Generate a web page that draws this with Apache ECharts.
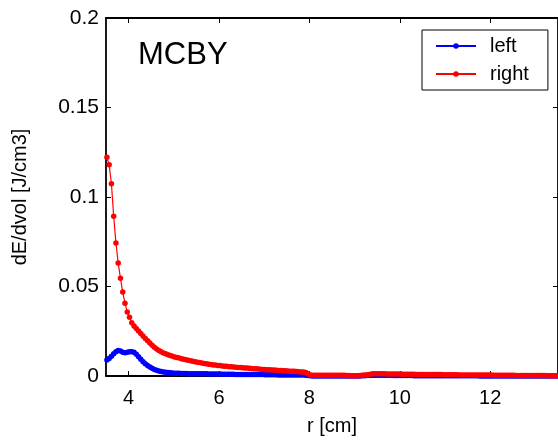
<!DOCTYPE html>
<html>
<head>
<meta charset="utf-8">
<script src="https://cdn.jsdelivr.net/npm/echarts@6/dist/echarts.min.js"></script>
<style>
  html, body { margin: 0; padding: 0; background: #fff; }
  #chart { width: 558px; height: 445px; }
</style>
</head>
<body>
<div id="chart"></div>
<script>
// Radial sampling grid (cm): first sample and spacing
const rFirst = 3.52;
const rStep = 0.05;

// Energy density dE/dvol [J/cm3], one value per radial sample
const leftValues = [
  0.0089, 0.0098, 0.0110, 0.0124, 0.0136, 0.0143, 0.0140, 0.0133, 0.0130, 0.0132,
  0.0135, 0.0136, 0.0132, 0.0122, 0.0108, 0.0094, 0.0080, 0.0068, 0.0058, 0.0050,
  0.0043, 0.0037, 0.0032, 0.0028, 0.0025, 0.0023, 0.0021, 0.0019, 0.0018, 0.0017,
  0.0016, 0.0015, 0.0015, 0.0014, 0.0014, 0.0014, 0.0013, 0.0013, 0.0013, 0.0013,
  0.0012, 0.0012, 0.0012, 0.0012, 0.0012, 0.0011, 0.0011, 0.0011, 0.0011, 0.0011,
  0.0011, 0.0010, 0.0010, 0.0010, 0.0010, 0.0010, 0.0010, 0.0009, 0.0009, 0.0009,
  0.0009, 0.0009, 0.0009, 0.0008, 0.0008, 0.0008, 0.0008, 0.0008, 0.0008, 0.0008,
  0.0007, 0.0007, 0.0007, 0.0007, 0.0007, 0.0007, 0.0006, 0.0006, 0.0006, 0.0006,
  0.0006, 0.0006, 0.0006, 0.0005, 0.0005, 0.0005, 0.0005, 0.0005, 0.0004, 0.0003,
  0.0001, 0.0000, 0.0000, 0.0000, 0.0000, 0.0000, 0.0000, 0.0000, 0.0000, 0.0000,
  0.0000, 0.0000, 0.0000, 0.0000, 0.0000, 0.0000, 0.0000, 0.0000, 0.0000, 0.0000,
  0.0000, 0.0000, 0.0000, 0.0001, 0.0002, 0.0003, 0.0004, 0.0004, 0.0004, 0.0004,
  0.0004, 0.0004, 0.0004, 0.0004, 0.0004, 0.0004, 0.0004, 0.0003, 0.0003, 0.0003,
  0.0003, 0.0003, 0.0003, 0.0003, 0.0003, 0.0003, 0.0002, 0.0002, 0.0002, 0.0002,
  0.0002, 0.0002, 0.0002, 0.0001, 0.0001, 0.0001, 0.0001, 0.0001, 0.0001, 0.0001,
  0.0001, 0.0001, 0.0001, 0.0001, 0.0001, 0.0001, 0.0001, 0.0001, 0.0001, 0.0001,
  0.0001, 0.0001, 0.0001, 0.0001, 0.0001, 0.0000, 0.0000, 0.0000, 0.0000, 0.0000,
  0.0000, 0.0000, 0.0000, 0.0000, 0.0000, 0.0000, 0.0000, 0.0000, 0.0000, 0.0000,
  0.0000, 0.0000, 0.0000, 0.0000, 0.0000, 0.0000, 0.0000, 0.0000, 0.0000, 0.0000,
  0.0000, 0.0000, 0.0000, 0.0000, 0.0000, 0.0000, 0.0000, 0.0000, 0.0000, 0.0000
];

const rightValues = [
  0.1222, 0.1180, 0.1074, 0.0892, 0.0743, 0.0631, 0.0546, 0.0469, 0.0406, 0.0358,
  0.0328, 0.0298, 0.0280, 0.0265, 0.0251, 0.0238, 0.0224, 0.0210, 0.0197, 0.0184,
  0.0172, 0.0161, 0.0151, 0.0142, 0.0135, 0.0129, 0.0124, 0.0119, 0.0114, 0.0110,
  0.0106, 0.0103, 0.0100, 0.0097, 0.0094, 0.0091, 0.0088, 0.0085, 0.0082, 0.0080,
  0.0077, 0.0075, 0.0072, 0.0070, 0.0068, 0.0066, 0.0064, 0.0062, 0.0061, 0.0059,
  0.0058, 0.0056, 0.0055, 0.0054, 0.0052, 0.0051, 0.0050, 0.0049, 0.0048, 0.0047,
  0.0046, 0.0045, 0.0044, 0.0043, 0.0042, 0.0041, 0.0040, 0.0039, 0.0038, 0.0037,
  0.0036, 0.0035, 0.0035, 0.0034, 0.0033, 0.0032, 0.0031, 0.0031, 0.0030, 0.0029,
  0.0028, 0.0027, 0.0027, 0.0026, 0.0025, 0.0024, 0.0023, 0.0022, 0.0020, 0.0013,
  0.0006, 0.0004, 0.0004, 0.0004, 0.0004, 0.0004, 0.0004, 0.0004, 0.0004, 0.0004,
  0.0004, 0.0004, 0.0004, 0.0004, 0.0004, 0.0004, 0.0003, 0.0003, 0.0002, 0.0002,
  0.0002, 0.0002, 0.0003, 0.0004, 0.0005, 0.0006, 0.0009, 0.0011, 0.0012, 0.0012,
  0.0012, 0.0012, 0.0012, 0.0012, 0.0011, 0.0011, 0.0011, 0.0011, 0.0011, 0.0011,
  0.0011, 0.0010, 0.0010, 0.0010, 0.0010, 0.0010, 0.0010, 0.0009, 0.0009, 0.0009,
  0.0009, 0.0009, 0.0008, 0.0008, 0.0008, 0.0008, 0.0008, 0.0008, 0.0008, 0.0007,
  0.0007, 0.0007, 0.0007, 0.0007, 0.0007, 0.0007, 0.0006, 0.0006, 0.0006, 0.0006,
  0.0006, 0.0006, 0.0006, 0.0005, 0.0005, 0.0005, 0.0005, 0.0005, 0.0005, 0.0005,
  0.0005, 0.0004, 0.0004, 0.0004, 0.0004, 0.0004, 0.0004, 0.0004, 0.0004, 0.0004,
  0.0004, 0.0003, 0.0003, 0.0003, 0.0003, 0.0003, 0.0003, 0.0003, 0.0003, 0.0003,
  0.0003, 0.0003, 0.0003, 0.0003, 0.0003, 0.0002, 0.0002, 0.0002, 0.0002, 0.0002
];

const xTicks = [4, 6, 8, 10, 12];
const yTicks = [0, 0.05, 0.1, 0.15, 0.2];
const seriesNames = ['left', 'right'];
const plotTitle = 'MCBY';

const radii = leftValues.map((_, i) => +(rFirst + i * rStep).toFixed(2));
const pairs = (vals) => vals.map((v, i) => [radii[i], v]);

const FONT = 'Liberation Sans, Arial, Helvetica, sans-serif';

const chart = echarts.init(document.getElementById('chart'), null, { renderer: 'canvas' });

const axisLineStyle = { color: '#000', width: 1.8 };
const tickStyle = { color: '#000', width: 1 };

chart.setOption({
  animation: false,
  backgroundColor: '#fff',
  textStyle: { fontFamily: FONT },
  grid: { left: 106, top: 18, width: 455, height: 358, containLabel: false },
  title: {
    text: plotTitle,
    left: 133, top: 35,
    textStyle: { fontFamily: FONT, fontSize: 31, fontWeight: 'normal', color: '#000' }
  },
  legend: {
    data: seriesNames,
    orient: 'vertical',
    left: 422, top: 30,
    padding: [6, 19, 6, 13],
    itemGap: 8,
    itemWidth: 40,
    itemHeight: 7,
    backgroundColor: '#fff',
    borderColor: '#000',
    borderWidth: 1,
    textStyle: { fontFamily: FONT, fontSize: 20, color: '#000', padding: [0, 0, 0, 9] }
  },
  xAxis: [
    {
      type: 'value', min: 3.5, max: 13.5, position: 'bottom',
      name: 'r [cm]', nameLocation: 'middle', nameGap: 40,
      nameTextStyle: { fontFamily: FONT, fontSize: 20, color: '#000' },
      axisLine: { show: true, onZero: false, lineStyle: axisLineStyle },
      axisTick: { show: true, inside: true, length: 5, customValues: xTicks, lineStyle: tickStyle },
      axisLabel: { show: true, customValues: xTicks, margin: 12, fontFamily: FONT, fontSize: 20, color: '#000' },
      splitLine: { show: false }
    },
    {
      type: 'value', min: 3.5, max: 13.5, position: 'top',
      axisLine: { show: true, onZero: false, lineStyle: axisLineStyle },
      axisTick: { show: true, inside: true, length: 5, customValues: xTicks, lineStyle: tickStyle },
      axisLabel: { show: false },
      splitLine: { show: false }
    }
  ],
  yAxis: [
    {
      type: 'value', min: 0, max: 0.2, interval: 0.05, position: 'left',
      name: 'dE/dvol [J/cm3]', nameLocation: 'middle', nameGap: 76,
      nameTextStyle: { fontFamily: FONT, fontSize: 20, color: '#000' },
      axisLine: { show: true, onZero: false, lineStyle: axisLineStyle },
      axisTick: { show: true, inside: true, length: 5, lineStyle: tickStyle },
      axisLabel: {
        show: true, margin: 7, fontFamily: FONT, fontSize: 21, color: '#000',
        formatter: (v) => String(+v.toFixed(2))
      },
      splitLine: { show: false }
    },
    {
      type: 'value', min: 0, max: 0.2, interval: 0.05, position: 'right',
      axisLine: { show: true, onZero: false, lineStyle: axisLineStyle },
      axisTick: { show: true, inside: true, length: 5, lineStyle: tickStyle },
      axisLabel: { show: false },
      splitLine: { show: false }
    }
  ],
  series: [
    {
      name: seriesNames[0], type: 'line', xAxisIndex: 0, yAxisIndex: 0,
      data: pairs(leftValues),
      symbol: 'circle', symbolSize: 5.5, showSymbol: true, showAllSymbol: true,
      lineStyle: { color: '#0000ff', width: 1.2 },
      itemStyle: { color: '#0000ff', borderWidth: 0 },
      clip: true
    },
    {
      name: seriesNames[1], type: 'line', xAxisIndex: 0, yAxisIndex: 0,
      data: pairs(rightValues),
      symbol: 'circle', symbolSize: 5.5, showSymbol: true, showAllSymbol: true,
      lineStyle: { color: '#ff0000', width: 1.2 },
      itemStyle: { color: '#ff0000', borderWidth: 0 },
      clip: true
    }
  ]
});
</script>
</body>
</html>
